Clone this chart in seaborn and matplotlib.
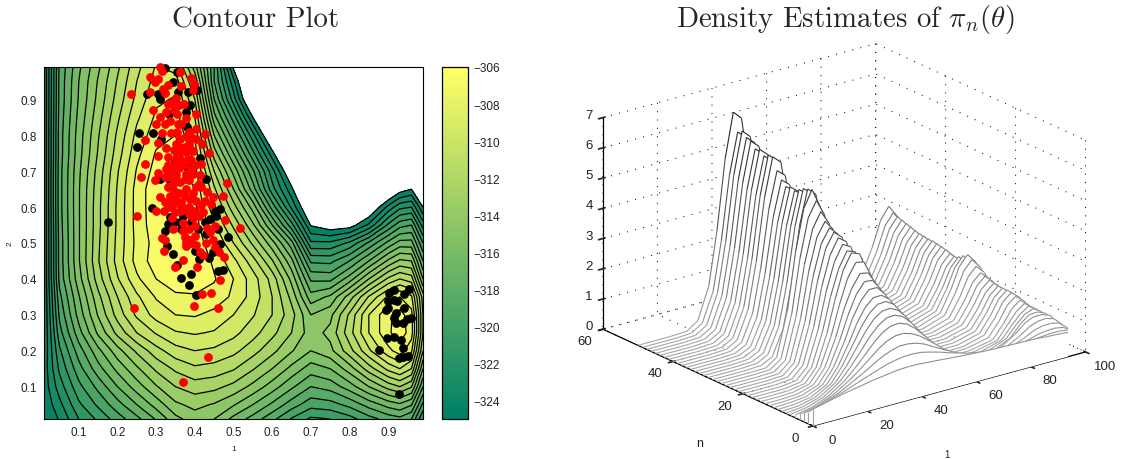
import numpy as np
import pandas as pd
import matplotlib
matplotlib.use('Agg')
import matplotlib.pyplot as plt
import seaborn as sns
from matplotlib.cm import ScalarMappable
from matplotlib.colors import Normalize
from mpl_toolkits.mplot3d.art3d import Poly3DCollection, Line3DCollection

# contour field (values are minus the log density)
grid_x = [.01, .05, .1, .15, .2, .25, .3, .35, .4, .45, .5, .55, .6, .65, .7, .75, .8, .85, .9, .93, .96, .99]
grid_y = [.01, .05, .1, .15, .2, .25, .3, .35, .4, .45, .5, .55, .6, .65, .7, .75, .8, .85, .9, .95, .99]
depth = [
    [325,323.9,322,320.8,319.5,318.3,316.9,315.3,314.5,315,316.3,317.4,318.7,320.1,321.2,321,320.4,319.4,318.6,318.3,319,322],
    [324.8,323.3,321.2,319.8,318.4,317,315.6,314.2,313.7,314.1,314.9,316,317.2,318.5,319.6,319.4,318.7,317.6,316.6,316.2,316.9,320.3],
    [324.6,322.5,320.3,318.7,317,315.5,314.1,313,312.5,312.7,313.3,314.3,315.5,316.8,318,317.6,316.5,315,313.6,313,313.9,318],
    [324.6,321.8,319.4,317.4,315.7,314.2,312.8,311.8,311.2,311.4,311.9,312.9,314,315.3,316.5,316,314.5,312.5,310.7,310,311,316],
    [324.8,321.2,318.5,316.3,314.4,312.8,311.4,310.4,310,310.2,310.7,311.6,312.7,313.9,315,314.3,312.4,310.2,308.3,307.5,308.8,314],
    [325,320.4,317.4,314.8,312.7,311,309.9,309.1,308.9,309.1,309.7,310.6,311.7,313,314.5,313.7,311.4,309,307.2,306.4,307.5,313],
    [325,319.8,316.6,313.9,311.6,309.8,308.6,308,307.9,308.3,309,309.9,311,312.6,315,314.3,311.8,309,307.2,306.6,307.6,313],
    [325,319.3,316.1,313.3,311,309.2,307.9,307.2,307.1,307.4,308.2,309.4,311,313.3,316.6,315.8,313.5,310.9,308.8,308,308.8,313.5],
    [325,318.7,315.4,312.5,310.1,308.2,307,306.4,306.5,306.9,308,309.5,311.4,314.3,318.2,318.3,316.5,314,311.8,311,311.5,316],
    [325,318.6,315.1,312.1,309.6,307.6,306.5,306.1,306.1,307.2,308.7,310.6,312.9,315.7,320.2,320.3,319,317,314.8,313.8,314,318],
    [325,318.6,315.1,312.2,309.7,307.7,306.6,306.1,306.2,307.9,310,312.2,314.6,317.6,322.8,322.8,321.8,319.8,317.7,316.6,316.6,320],
    [325,318.5,315.1,312.3,309.8,307.6,306.4,306.1,306.5,308.8,311.2,313.8,317,320.6,325.1,325.8,325.6,323.8,320.8,319.4,319,322.5],
    [325,318.4,315.1,312.3,309.8,307.6,306.3,306.1,306.7,309.8,312.6,315.4,319.4,323.2,326.8,328.5,328.3,326.5,323.7,322.3,322,325],
    [325,318.4,315.1,312.4,309.9,307.6,306.3,306.2,307,310.8,314,317.5,321.6,324.7,329,331.5,332,330,327,325.6,325,329],
    [325,318.4,315.2,312.6,310.1,307.9,306.6,306.4,307.6,312,315.3,318.8,322.6,326.5,331,336,338,338,338,338,338,338],
    [325,318.5,315.4,312.9,310.5,308.3,306.9,306.6,308.4,313.5,317,320.7,324.6,329,334,338,338,338,338,338,338,338],
    [325,318.5,315.5,313.1,310.8,308.7,307.4,307,309.2,315,318.7,322.6,327,332,338,338,338,338,338,338,338,338],
    [325,318.6,315.7,313.4,311.2,309.2,307.8,307.5,310,316.6,320.5,325,331,338,338,338,338,338,338,338,338,338],
    [325,318.7,315.9,313.7,311.6,309.7,308.2,307.9,311,318,322.5,327.5,334,338,338,338,338,338,338,338,338,338],
    [325,318.7,316,313.9,311.9,310,308.6,308.4,312.2,319,323.7,329,336,338,338,338,338,338,338,338,338,338],
    [325,318.8,316.2,314.2,312.2,310.3,308.9,309.5,313.5,319,325.2,330,338,338,338,338,338,338,338,338,338,338],
]

# MCMC samples
black_x = [.322,.354,.277,.305,.311,.343,.356,.382,.406,.387,.376,.333,.380,.255,.292,.313,.250,.348,.380,.413,
           .309,.335,.430,.290,.335,.175,.452,.466,.454,.361,.348,.331,.322,.391,.430,.460,.485,.426,.365,.466,
           .329,.343,.400,.447,.411,.437,.354,.389,.365,.460,.473,.385,.404,.369,.439,.408,
           .902,.914,.954,.940,.900,.924,.915,.941,.900,.894,.921,.915,.948,.960,.920,.937,.898,.915,.933,.937,
           .875,.950,.937,.928,.927]
black_y = [.986,.977,.916,.916,.900,.949,.921,.921,.926,.884,.865,.860,.823,.805,.807,.790,.767,.725,.714,.736,
           .679,.674,.677,.597,.572,.558,.590,.595,.576,.558,.558,.553,.533,.558,.525,.539,.516,.558,.539,.497,
           .491,.469,.479,.474,.455,.458,.438,.415,.402,.423,.424,.384,.355,.576,.567,.539,
           .362,.369,.371,.357,.339,.339,.342,.318,.320,.313,.304,.292,.289,.291,.278,.278,.236,.238,.229,.207,
           .201,.185,.183,.179,.080]
red_x = [.309,.314,.361,.285,.305,.296,.389,.398,.331,.318,.365,.234,.283,.322,.395,.331,.352,.342,.371,.293,
         .354,.404,.309,.300,.378,.337,.324,.357,.402,.426,.270,.315,.339,.378,.361,.391,.404,.419,.352,.326,
         .306,.374,.437,.361,.378,.305,.331,.361,.391,.417,.270,.331,.348,.400,.305,.331,.378,.261,.296,.322,
         .352,.374,.414,.395,.482,.343,.361,.404,.417,.378,.432,.473,.311,.335,.348,.374,.447,.404,.426,.322,
         .300,.319,.339,.365,.378,.443,.401,.421,.250,.395,.400,.479,.452,.432,.518,.343,.369,.374,.315,.324,
         .378,.404,.446,.428,.376,.413,.320,.421,.452,.463,.475,.369,.349,.405,.465,.441,.419,.398,.244,.460,
         .434,.369,.387,.382,.339,.326,.352,.369,.387,.365,.331,.387,
         .345,.355,.365,.385,.395,.375,.360,.340,.350,.390,.385,.330,.345,.360,.395,.410,.330,.350,.365,.385,
         .415,.385,.355,.340,.410,.370,.385,.400,.390,.440,.355,.385,.365,.345,.325,.360]
red_y = [.991,.979,.977,.961,.956,.949,.960,.944,.940,.930,.938,.916,.921,.918,.926,.888,.904,.893,.886,.870,
         .858,.859,.851,.830,.848,.840,.830,.830,.817,.803,.788,.805,.805,.797,.790,.795,.790,.777,.777,.764,
         .779,.767,.751,.753,.753,.742,.739,.735,.730,.721,.721,.716,.721,.716,.696,.697,.693,.683,.676,.683,
         .688,.679,.688,.693,.667,.665,.669,.656,.657,.651,.642,.632,.629,.630,.623,.632,.628,.618,.616,.614,
         .590,.590,.600,.604,.595,.609,.590,.586,.576,.569,.548,.564,.548,.542,.541,.539,.534,.516,.514,.507,
         .504,.495,.507,.500,.493,.476,.477,.467,.488,.476,.462,.452,.433,.433,.397,.362,.358,.325,.320,.318,
         .182,.112,.507,.735,.683,.707,.735,.716,.763,.614,.614,.623,
         .760,.745,.765,.775,.755,.720,.710,.700,.670,.705,.675,.655,.645,.640,.640,.665,.600,.585,.590,.600,
         .605,.580,.610,.570,.575,.555,.540,.520,.500,.530,.810,.810,.830,.870,.865,.885]

# density estimates: one row per n, one column per theta_pos
theta_pos = [0,6,12,18,22,26,29,32,35,38,41,44,48,52,58,66,74,82,86,89,92,95,98,100]
n_pos = [0,1.25,2.5,3.75,5,6.25,7.5,8.75,10,11.25,12.5,13.75,15,16.25,17.5,18.75,20,21.25,22.5,23.75,25,26.25,27.5,
         28.75,30,31.25,32.5,33.75,35,36.25,37.5,38.75,40,41.25,42.5,43.75,45,46.25,47.5,48.75,50]
density = [
    [.55,.68,.8,.9,.97,1.02,1.06,1.09,1.1,1.1,1.08,1.06,1.03,1,.96,.92,.9,.88,.85,.84,.82,.78,.68,.55],
    [.4,.55,.72,.92,1.05,1.18,1.27,1.33,1.37,1.38,1.36,1.3,1.2,1.08,.92,.78,.72,.76,.8,.82,.82,.78,.66,.48],
    [.28,.42,.62,.9,1.1,1.32,1.47,1.58,1.65,1.65,1.6,1.5,1.3,1.1,.83,.6,.55,.7,.8,.84,.85,.8,.64,.42],
    [.18,.3,.52,.85,1.12,1.42,1.65,1.82,1.92,1.93,1.85,1.7,1.42,1.12,.72,.42,.4,.68,.86,.93,.94,.88,.66,.38],
    [.1,.2,.42,.78,1.12,1.5,1.8,2.04,2.18,2.2,2.1,1.88,1.5,1.1,.58,.27,.3,.68,.92,1.02,1.04,.95,.68,.35],
    [.06,.14,.33,.7,1.1,1.56,1.92,2.2,2.38,2.4,2.28,2.02,1.55,1.05,.47,.16,.22,.68,.98,1.1,1.1,1.0,.66,.3],
    [.03,.09,.25,.6,1.05,1.6,2.02,2.35,2.54,2.56,2.42,2.12,1.55,.98,.36,.09,.16,.5,.9,1.1,1.12,1.0,.62,.26],
    [.02,.05,.18,.5,.98,1.6,2.1,2.48,2.7,2.72,2.55,2.18,1.52,.88,.27,.05,.12,.4,.8,1.05,1.16,1.0,.6,.22],
    [.01,.03,.12,.4,.88,1.56,2.15,2.6,2.85,2.86,2.65,2.2,1.45,.76,.18,.03,.09,.3,.72,1.0,1.18,1.0,.58,.18],
    [0,.02,.08,.32,.8,1.55,2.25,2.75,3.05,3.05,2.75,2.22,1.36,.64,.12,.01,.06,.22,.66,1.0,1.2,1,.59,.34],
    [0,.01,.05,.25,.72,1.55,2.3,2.9,3.25,3.22,2.85,2.22,1.25,.52,.08,0,.03,.18,.62,1.03,1.24,1.03,.61,.35],
    [0,0,.03,.2,.65,1.55,2.4,3.05,3.45,3.4,2.95,2.2,1.15,.42,.05,0,.02,.18,.64,1.09,1.3,1.09,.64,.36],
    [0,0,.02,.15,.6,1.55,2.5,3.3,3.75,3.7,3.1,2.2,1.02,.32,.03,0,0,.19,.67,1.13,1.36,1.13,.67,.38],
    [0,0,.01,.1,.52,1.55,2.6,3.5,4,3.9,3.2,2.15,.9,.24,.02,0,0,.19,.68,1.15,1.38,1.15,.68,.38],
    [0,0,0,.08,.47,1.55,2.65,3.5,4,3.9,3.15,2.05,.8,.18,.01,0,0,.19,.68,1.15,1.38,1.15,.68,.38],
    [0,0,0,.06,.42,1.55,2.75,3.65,4.15,4,3.15,1.95,.7,.13,0,0,0,.19,.68,1.15,1.38,1.15,.68,.39],
    [0,0,0,.05,.4,1.58,2.85,3.8,4.3,4.1,3.12,1.85,.6,.1,0,0,0,.19,.69,1.17,1.4,1.17,.69,.39],
    [0,0,0,.04,.37,1.6,2.95,3.95,4.42,4.18,3.1,1.75,.52,.07,0,0,0,.2,.71,1.2,1.44,1.2,.71,.4],
    [0,0,0,.03,.35,1.62,3.05,4.05,4.5,4.22,3.05,1.65,.45,.05,0,0,0,.2,.74,1.25,1.5,1.25,.74,.42],
    [0,0,0,.02,.33,1.65,3.15,4.2,4.65,4.3,3,1.55,.38,.04,0,0,0,.21,.76,1.29,1.55,1.29,.76,.43],
    [0,0,0,.02,.3,1.68,3.3,4.4,4.9,4.45,3,1.45,.32,.03,0,0,0,.23,.83,1.42,1.7,1.42,.83,.48],
    [0,0,0,.02,.28,1.7,3.45,4.7,5.2,4.65,3,1.4,.27,.02,0,0,0,.25,.91,1.54,1.85,1.54,.91,.52],
    [0,0,0,.01,.26,1.72,3.6,4.95,5.5,4.85,3,1.3,.22,.01,0,0,0,.26,.96,1.63,1.95,1.63,.96,.55],
    [0,0,0,.03,.22,1.05,2.42,4.3,5.45,5.2,3.65,1.95,.5,.08,0,0,0,.25,.91,1.54,1.85,1.54,.91,.52],
    [0,0,0,.03,.22,1.05,2.42,4.24,5.4,5.17,3.63,1.93,.5,.08,0,0,0,.24,.86,1.46,1.75,1.46,.86,.49],
    [0,0,0,.03,.21,1.03,2.38,4.16,5.3,5.08,3.56,1.89,.49,.08,0,0,0,.23,.83,1.42,1.7,1.42,.83,.48],
    [0,0,0,.03,.21,1,2.33,4.08,5.2,4.98,3.5,1.86,.48,.08,0,0,0,.23,.84,1.44,1.72,1.44,.84,.48],
    [0,0,0,.03,.21,1.02,2.35,4.12,5.25,5.03,3.53,1.87,.48,.08,0,0,0,.24,.87,1.49,1.78,1.49,.87,.5],
    [0,0,0,.03,.21,1,2.33,4.08,5.2,4.98,3.5,1.86,.48,.08,0,0,0,.25,.89,1.52,1.82,1.52,.89,.51],
    [0,0,0,.03,.22,1.03,2.4,4.2,5.35,5.12,3.6,1.9,.49,.08,0,0,0,.25,.91,1.54,1.85,1.54,.91,.52],
    [0,0,0,.03,.23,1.08,2.5,4.39,5.59,5.36,3.76,2,.51,.09,0,0,0,.25,.92,1.57,1.88,1.57,.92,.53],
    [0,0,0,.03,.24,1.16,2.68,4.7,5.98,5.73,4.03,2.14,.55,.09,0,0,0,.25,.92,1.57,1.88,1.57,.92,.53],
    [0,0,0,.03,.24,1.16,2.68,4.7,5.98,5.73,4.03,2.14,.55,.09,0,0,0,.26,.93,1.59,1.9,1.59,.93,.53],
    [0,0,0,.03,.24,1.14,2.64,4.62,5.88,5.64,3.96,2.1,.54,.09,0,0,0,.26,.94,1.6,1.92,1.6,.94,.54],
    [0,0,0,.03,.25,1.17,2.71,4.74,6.03,5.78,4.06,2.15,.55,.09,0,0,0,.26,.96,1.63,1.95,1.63,.96,.55],
    [0,0,0,.03,.24,1.16,2.68,4.7,5.98,5.73,4.03,2.14,.55,.09,0,0,0,.27,.98,1.67,2,1.67,.98,.56],
    [0,0,0,.03,.25,1.2,2.77,4.85,6.17,5.92,4.16,2.2,.57,.09,0,0,0,.28,1,1.71,2.05,1.71,1,.57],
    [0,0,0,.03,.25,1.21,2.79,4.89,6.22,5.97,4.19,2.22,.57,.1,0,0,0,.28,1.03,1.75,2.1,1.75,1.03,.59],
    [0,0,0,.03,.26,1.24,2.86,5,6.37,6.11,4.29,2.28,.59,.1,0,0,0,.29,1.05,1.8,2.15,1.8,1.05,.6],
    [0,0,0,.03,.26,1.22,2.82,4.93,6.27,6.02,4.22,2.24,.58,.1,0,0,0,.3,1.08,1.84,2.2,1.84,1.08,.62],
    [0,0,0,.03,.28,1.33,3.08,5.39,6.86,6.58,4.62,2.45,.63,.11,0,0,0,.32,1.15,1.96,2.35,1.96,1.15,.66],
]

x_ticks = [0, 20, 40, 60, 80, 100]
n_ticks = [0, 20, 40, 60]
z_ticks = [0, 1, 2, 3, 4, 5, 6, 7]

sns.set_theme(style='white', rc={'grid.color': '#111111', 'grid.linestyle': (0, (1, 7)), 'grid.linewidth': 0.75})
plt.rcParams['font.family'] = ['Liberation Sans', 'DejaVu Sans']
plt.rcParams['mathtext.fontset'] = 'cm'

W, H = 1128, 460
fig = plt.figure(figsize=(W / 100, H / 100), dpi=100)

# left panel
ax = fig.add_axes([44 / W, 1 - 420 / H, 379 / W, 352 / H])
levels = np.arange(-325, -305, 1)
field = -np.array(depth)
ax.contourf(grid_x, grid_y, field, levels=levels, cmap='summer', vmin=-325, vmax=-306)
ax.contour(grid_x, grid_y, field, levels=levels, colors='black', linewidths=0.9, linestyles='solid')
sns.scatterplot(x=black_x, y=black_y, color='black', s=40, linewidth=0, ax=ax, clip_on=False, zorder=5)
sns.scatterplot(x=red_x, y=red_y, color='red', s=40, linewidth=0, ax=ax, clip_on=False, zorder=6)
ax.set_xlim(.01, .99)
ax.set_ylim(.01, .99)
ax.set_xticks(np.arange(.1, .95, .1))
ax.set_yticks(np.arange(.1, .95, .1))
ax.set_xticklabels(['0.1', '0.2', '0.3', '0.4', '0.5', '0.6', '0.7', '0.8', '0.9'])
ax.set_yticklabels(['0.1', '0.2', '0.3', '0.4', '0.5', '0.6', '0.7', '0.8', '0.9'])
ax.tick_params(direction='in', length=0, labelsize=8.5, pad=5, colors='#222222')
ax.set_xlabel('1', fontsize=6, labelpad=5)
ax.set_ylabel('2', fontsize=6, labelpad=5)
for s in ax.spines.values():
    s.set_linewidth(0.8)
    s.set_color('black')
fig.text(256 / W, 1 - 20 / H, 'Contour Plot', family='cmr10', fontsize=20.8, ha='center', va='center')

# colorbar with the 64 step colormap
cax = fig.add_axes([442 / W, 1 - 420 / H, 26 / W, 352 / H])
mappable = ScalarMappable(norm=Normalize(-325, -306), cmap=plt.get_cmap('summer', 64))
cb = fig.colorbar(mappable, cax=cax, ticks=np.arange(-324, -304, 2))
cb.ax.tick_params(direction='in', length=3, width=0.6, labelsize=8.5, pad=4, colors='#222222')
cb.outline.set_linewidth(0.9)
cb.outline.set_edgecolor('black')

# right panel
ax3 = fig.add_axes([558 / W, -12 / H, 560 / W, 460 / H], projection='3d', proj_type='ortho',
                   computed_zorder=False)
ax3.set_facecolor('none')
ax3.view_init(elev=20.7, azim=-127.5)
ax3.set_box_aspect((345, 346, 227), zoom=1.133)

theta_arr = np.array(theta_pos, dtype=float)
dens = np.array(density)
order = 10
for n_val, row in sorted(zip(n_pos, dens), key=lambda p: -p[0]):
    xs = np.r_[theta_arr[0], theta_arr, theta_arr[-1]]
    zs = np.r_[0, row, 0]
    ys = np.full_like(xs, n_val)
    pts = list(zip(xs, ys, zs))
    face = Poly3DCollection([pts], facecolors='white', edgecolors='none', linewidths=0)
    face.set_zorder(order)
    ax3.add_collection3d(face)
    segs = [[pts[i], pts[i + 1]] for i in range(len(pts) - 1)]
    mids = (zs[:-1] + zs[1:]) / 2
    cols = [str(round(max(0.65 - 0.08 * m, 0.1), 3)) for m in mids]
    lines = Line3DCollection(segs, colors=cols, linewidths=0.8)
    lines.set_zorder(order + 1)
    ax3.add_collection3d(lines)
    order += 2

ax3.set_xlim(0, 100, view_margin=0)
ax3.set_ylim(0, 60, view_margin=0)
ax3.set_zlim(0, 7, view_margin=0)
ax3.set_xticks(x_ticks)
ax3.set_yticks(n_ticks)
ax3.set_zticks(z_ticks)
ax3.set_xticklabels([])
ax3.set_yticklabels([])
ax3.set_zticklabels([])
for axis in (ax3.xaxis, ax3.yaxis, ax3.zaxis):
    axis.pane.set_visible(False)
    axis.line.set_color('black')
    axis.line.set_linewidth(0.9)

# tick labels sit a little off the axes, MATLAB style
label_kw = dict(fontsize=9.5, ha='center', va='center', color='#222222', zorder=200)
for t in x_ticks:
    ax3.text(t, -5.5, -0.16, str(t), **label_kw)
for t in n_ticks:
    ax3.text(-6.6, t, -0.23, str(t), **label_kw)
for t in z_ticks:
    ax3.text(-5.1, 60, t + 0.22, str(t), **label_kw)

fig.text(947 / W, 1 - 455 / H, '1', fontsize=7, ha='center', va='center', color='#222222')
fig.text(700 / W, 1 - 444 / H, 'n', fontsize=9, ha='center', va='center', color='#222222')
fig.text(845 / W, 1 - 19 / H, r'Density Estimates of $\pi_n(\theta)$', family='cmr10', fontsize=20.8,
         ha='center', va='center')

fig.savefig('out.png', dpi=100)
